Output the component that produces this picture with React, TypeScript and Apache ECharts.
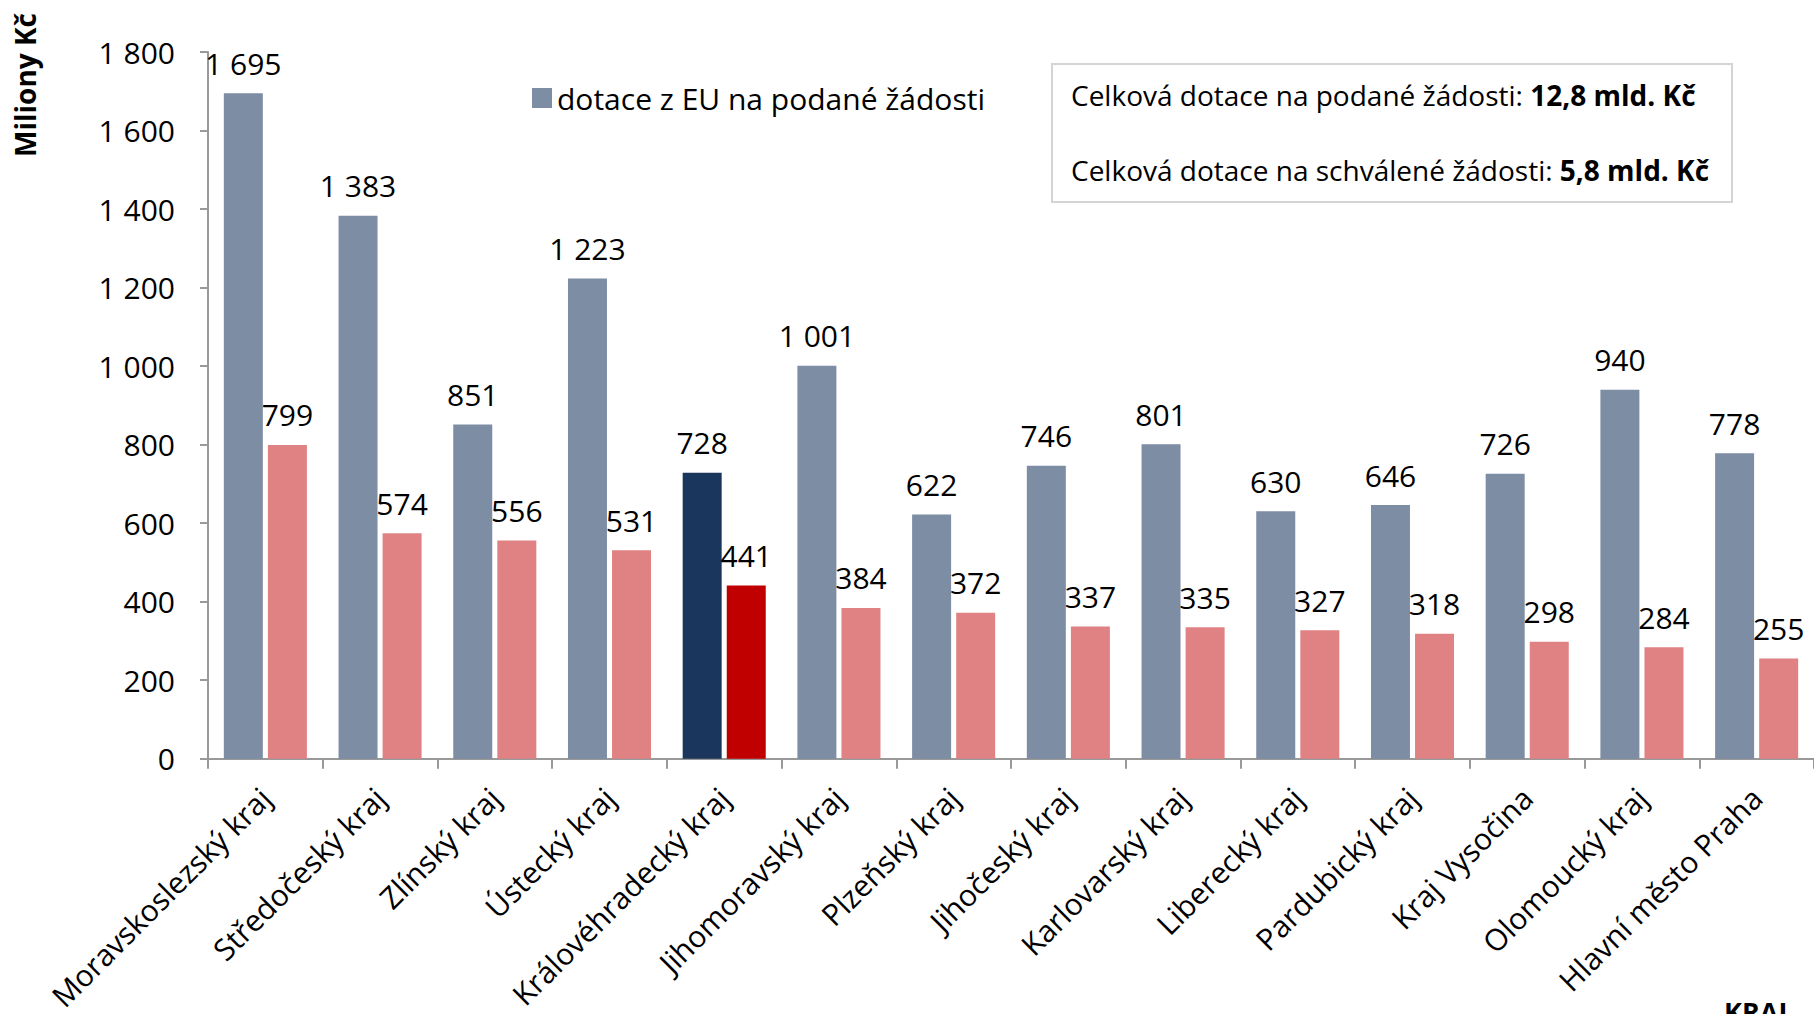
import React, { useEffect, useRef } from "react";
import * as echarts from "echarts";

const categories = [
  "Moravskoslezský kraj",
  "Středočeský kraj",
  "Zlínský kraj",
  "Ústecký kraj",
  "Královéhradecký kraj",
  "Jihomoravský kraj",
  "Plzeňský kraj",
  "Jihočeský kraj",
  "Karlovarský kraj",
  "Liberecký kraj",
  "Pardubický kraj",
  "Kraj Vysočina",
  "Olomoucký kraj",
  "Hlavní město Praha",
];
const submitted = [1695, 1383, 851, 1223, 728, 1001, 622, 746, 801, 630, 646, 726, 940, 778];
const approved = [799, 574, 556, 531, 441, 384, 372, 337, 335, 327, 318, 298, 284, 255];
const highlightIndex = 4;
const legendLabel = "dotace z EU na podané žádosti";
const approvedLabel = "dotace z EU na schválené žádosti";
const yAxisTitle = "Miliony Kč";
const xAxisTitle = "KRAJ";
const boxLine1 = "Celková dotace na podané žádosti: ";
const boxValue1 = "12,8 mld. Kč";
const boxLine2 = "Celková dotace na schválené žádosti: ";
const boxValue2 = "5,8 mld. Kč";

const FONT = "'Open Sans', sans-serif";
const fmt = (v: number) => String(v).replace(/\B(?=(\d{3})+(?!\d))/g, " ");

export default function App() {
  const ref = useRef<HTMLDivElement>(null);
  useEffect(() => {
    document.body.style.margin = "0";
    const chart = echarts.init(ref.current!, null, { renderer: "svg" });
    const blue = "#7d8da4";
    const pink = "#e08283";
    const labelCfg = {
      show: true,
      position: "top",
      distance: 15,
      fontSize: 30,
      color: "#000",
      fontFamily: FONT,
      formatter: (p: any) => fmt(p.value),
    };
    chart.setOption({
      animation: false,
      textStyle: { fontFamily: FONT },
      grid: { left: 208, right: 0, top: 52, bottom: 254, containLabel: false },
      legend: {
        data: [legendLabel],
        left: 527,
        top: 78,
        itemWidth: 20,
        itemHeight: 20,
        icon: "rect",
        textStyle: { fontSize: 30, color: "#000", fontFamily: FONT },
      },
      xAxis: {
        type: "category",
        data: categories,
        axisLine: { lineStyle: { color: "#999", width: 2 } },
        axisTick: { show: true, length: 10, lineStyle: { color: "#999", width: 2 } },
        axisLabel: {
          rotate: 45,
          interval: 0,
          margin: 34,
          fontSize: 30,
          color: "#000",
          fontFamily: FONT,
        },
      },
      yAxis: {
        type: "value",
        min: 0,
        max: 1800,
        interval: 200,
        splitLine: { show: false },
        axisLine: { show: true, lineStyle: { color: "#999", width: 2 } },
        axisTick: { show: true, length: 8, lineStyle: { color: "#999", width: 2 } },
        axisLabel: {
          margin: 33,
          fontSize: 30,
          color: "#000",
          fontFamily: FONT,
          formatter: (v: number) => fmt(v),
        },
      },
      series: [
        {
          name: legendLabel,
          type: "bar",
          barWidth: 39,
          barGap: "13%",
          itemStyle: { color: blue },
          data: submitted.map((v, i) =>
            i === highlightIndex ? { value: v, itemStyle: { color: "#1b365d" } } : v
          ),
          label: labelCfg,
        },
        {
          name: approvedLabel,
          type: "bar",
          barWidth: 39,
          barGap: "13%",
          itemStyle: { color: pink },
          data: approved.map((v, i) =>
            i === highlightIndex ? { value: v, itemStyle: { color: "#c00000" } } : v
          ),
          label: labelCfg,
        },
      ],
      graphic: [
        {
          type: "text",
          x: 25,
          y: 85,
          rotation: Math.PI / 2,
          style: {
            text: yAxisTitle,
            font: `bold 28px ${FONT}`,
            fill: "#000",
            textAlign: "center",
            textVerticalAlign: "middle",
          },
        },
        {
          type: "rect",
          shape: { x: 1052, y: 64, width: 680, height: 138 },
          style: { fill: "#fff", stroke: "#d4d4d4", lineWidth: 2 },
        },
        {
          type: "text",
          x: 1071,
          y: 95,
          style: {
            text: `{n|${boxLine1}}{b|${boxValue1}}`,
            rich: {
              n: { fontSize: 28, fontFamily: FONT, fill: "#000" },
              b: { fontSize: 28, fontFamily: FONT, fontWeight: "bold", fill: "#000" },
            },
            textVerticalAlign: "middle",
          },
        },
        {
          type: "text",
          x: 1071,
          y: 170,
          style: {
            text: `{n|${boxLine2}}{b|${boxValue2}}`,
            rich: {
              n: { fontSize: 28, fontFamily: FONT, fill: "#000" },
              b: { fontSize: 28, fontFamily: FONT, fontWeight: "bold", fill: "#000" },
            },
            textVerticalAlign: "middle",
          },
        },
        {
          type: "text",
          x: 1724,
          y: 998,
          style: {
            text: xAxisTitle,
            font: `bold 27px ${FONT}`,
            fill: "#000",
          },
        },
      ],
    });
    return () => chart.dispose();
  }, []);
  return <div ref={ref} style={{ width: 1814, height: 1014 }} />;
}
